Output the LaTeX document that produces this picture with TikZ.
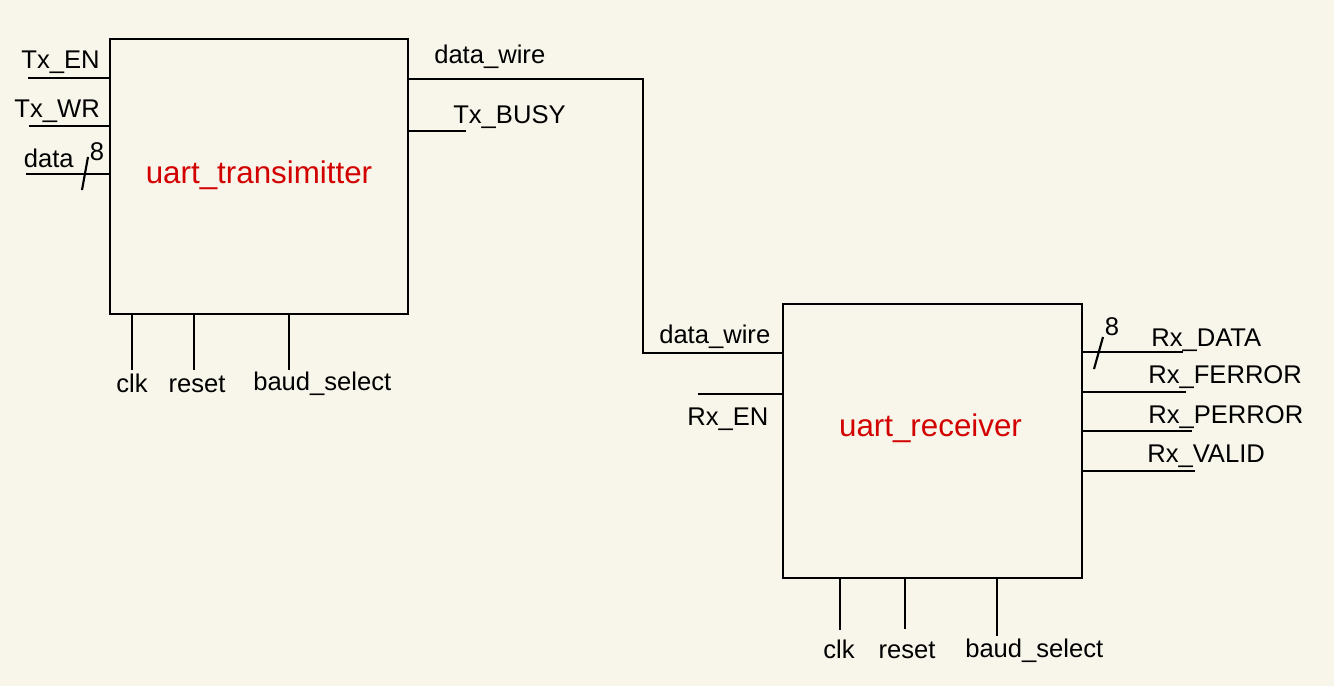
\documentclass[tikz,border=0pt]{standalone}
\usepackage{fontspec}
\setmainfont{Liberation Sans}
\definecolor{bgc}{HTML}{F8F6EA}
\definecolor{modred}{HTML}{D20000}
\begin{document}
\begin{tikzpicture}[x=0.75pt,y=-0.75pt,
  wire/.style={line width=1.6pt},
  box/.style={draw,line width=1.6pt,inner sep=0pt,minimum width=224pt,minimum height=206pt},
  lbl/.style={inner sep=0pt,font=\fontsize{19.2}{22}\selectfont},
  title/.style={inner sep=0pt,text=modred,font=\fontsize{23.5}{26}\selectfont},
  ]
\fill[bgc] (0,0) rectangle (1334,686);
\useasboundingbox (0,0) rectangle (1334,686);

% modules
\node[box] (tx) at (259,176.5) {};
\node[box] (rx) at (932.5,441) {};
\node[title,anchor=base] (txname) at (259,183) {uart\_transimitter};
\node[title,anchor=base] (rxname) at (930.5,436) {uart\_receiver};

% transmitter inputs
\coordinate (txen) at (28,78);
\coordinate (txwr) at (29,126);
\coordinate (txdata) at (26,174);
\draw[wire] (txen) -- (txen -| tx.west);
\draw[wire] (txwr) -- (txwr -| tx.west);
\draw[wire] (txdata) -- (txdata -| tx.west);
\coordinate (s1a) at (82,190);
\coordinate (s1b) at (88,157);
\draw[wire] (s1a) -- (s1b);
\node[lbl,anchor=base east] (ltxen) at (100,68) {Tx\_EN};
\node[lbl,anchor=base east] (ltxwr) at (100,117.5) {Tx\_WR};
\node[lbl,anchor=base east] (ldata) at (74,167) {data};
\node[lbl,anchor=base] (l8a) at (97,160) {8};

% transmitter bottom
\coordinate (tclk) at (132,370);
\coordinate (trst) at (194,370);
\coordinate (tbaud) at (289,370);
\draw[wire] (tclk |- tx.south) -- (tclk);
\draw[wire] (trst |- tx.south) -- (trst);
\draw[wire] (tbaud |- tx.south) -- (tbaud);
\node[lbl,anchor=base] (ltclk) at (132,392) {clk};
\node[lbl,anchor=base] (ltrst) at (197,392) {reset};
\node[lbl,anchor=base west] (ltbaud) at (253,390) {baud\_select};

% transmitter outputs
\coordinate (dw1) at (643,79);
\coordinate (dw2) at (643,353);
\draw[wire] (dw1 -| tx.east) -- (dw1) -- (dw2) -- (dw2 -| rx.west);
\coordinate (busy) at (466,131);
\draw[wire] (busy -| tx.east) -- (busy);
\node[lbl,anchor=base west] (ldw1) at (434,63) {data\_wire};
\node[lbl,anchor=base west] (lbusy) at (453,123) {Tx\_BUSY};
\node[lbl,anchor=base west] (ldw2) at (659,343) {data\_wire};

% receiver input
\coordinate (rxen) at (698,394);
\draw[wire] (rxen) -- (rxen -| rx.west);
\node[lbl,anchor=base west] (lrxen) at (687,425) {Rx\_EN};

% receiver outputs
\coordinate (rdata) at (1183,352);
\coordinate (rferr) at (1186,392);
\coordinate (rperr) at (1192,431);
\coordinate (rvalid) at (1195,471);
\draw[wire] (rdata -| rx.east) -- (rdata);
\draw[wire] (rferr -| rx.east) -- (rferr);
\draw[wire] (rperr -| rx.east) -- (rperr);
\draw[wire] (rvalid -| rx.east) -- (rvalid);
\coordinate (s2a) at (1094,369);
\coordinate (s2b) at (1103,337);
\draw[wire] (s2a) -- (s2b);
\node[lbl,anchor=base] (l8b) at (1112,335) {8};
\node[lbl,anchor=base west] (lrdata) at (1151,346) {Rx\_DATA};
\node[lbl,anchor=base west] (lrferr) at (1148,383) {Rx\_FERROR};
\node[lbl,anchor=base west] (lrperr) at (1148,423) {Rx\_PERROR};
\node[lbl,anchor=base west] (lrvalid) at (1147,462) {Rx\_VALID};

% receiver bottom
\coordinate (rclk) at (840,630);
\coordinate (rrst) at (905,629);
\coordinate (rbaud) at (997,636);
\draw[wire] (rclk |- rx.south) -- (rclk);
\draw[wire] (rrst |- rx.south) -- (rrst);
\draw[wire] (rbaud |- rx.south) -- (rbaud);
\node[lbl,anchor=base] (lrclk) at (839,658) {clk};
\node[lbl,anchor=base] (lrrst) at (907,658) {reset};
\node[lbl,anchor=base west] (lrbaud) at (965,657) {baud\_select};
\end{tikzpicture}
\end{document}
